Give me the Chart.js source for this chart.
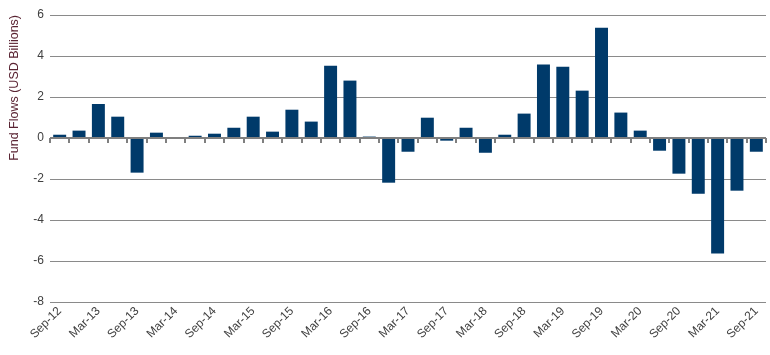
<!DOCTYPE html>
<html>
<head>
<meta charset="utf-8">
<script src="https://cdn.jsdelivr.net/npm/chart.js@4/dist/chart.umd.min.js"></script>
<style>
  html, body { margin: 0; padding: 0; background: #ffffff; }
  #wrap { width: 770px; height: 355px; position: relative; }
</style>
</head>
<body>
<div id="wrap"><canvas id="c"></canvas></div>
<script>
const quarters = [
  "Sep-12","Dec-12","Mar-13","Jun-13","Sep-13","Dec-13","Mar-14","Jun-14",
  "Sep-14","Dec-14","Mar-15","Jun-15","Sep-15","Dec-15","Mar-16","Jun-16",
  "Sep-16","Dec-16","Mar-17","Jun-17","Sep-17","Dec-17","Mar-18","Jun-18",
  "Sep-18","Dec-18","Mar-19","Jun-19","Sep-19","Dec-19","Mar-20","Jun-20",
  "Sep-20","Dec-20","Mar-21","Jun-21","Sep-21"
];
const fundFlows = [
  0.16, 0.36, 1.66, 1.04, -1.69, 0.26, 0.0, 0.11,
  0.21, 0.50, 1.04, 0.31, 1.38, 0.80, 3.53, 2.80,
  0.07, -2.18, -0.67, 0.99, -0.13, 0.50, -0.72, 0.16,
  1.19, 3.58, 3.48, 2.31, 5.38, 1.24, 0.36, -0.62,
  -1.74, -2.72, -5.64, -2.57, -0.67
];
const yTicks = [-8, -6, -4, -2, 0, 2, 4, 6];
const axisTitle = "Fund Flows (USD Billions)";

const zeroLinePlugin = {
  id: 'zeroLine',
  afterDatasetsDraw(chart) {
    const ctx = chart.ctx;
    const xs = chart.scales.x, ys = chart.scales.y;
    const area = chart.chartArea;
    const y0 = ys.getPixelForValue(0);
    ctx.save();
    ctx.strokeStyle = '#7f7f7f';
    ctx.lineWidth = 2;
    ctx.beginPath();
    ctx.moveTo(area.left, y0);
    ctx.lineTo(area.right, y0);
    ctx.stroke();
    const n = quarters.length;
    const bounds = [area.left];
    for (let i = 1; i < n; i++) {
      bounds.push((xs.getPixelForValue(i - 1) + xs.getPixelForValue(i)) / 2);
    }
    bounds.push(area.right);
    ctx.beginPath();
    bounds.forEach(b => {
      const bx = Math.round(b);
      ctx.moveTo(bx, y0);
      ctx.lineTo(bx, y0 + 5);
    });
    ctx.stroke();
    ctx.restore();
  }
};

new Chart(document.getElementById('c'), {
  type: 'bar',
  data: {
    labels: quarters,
    datasets: [{
      data: fundFlows,
      backgroundColor: '#003a6a',
      borderWidth: 0,
      barPercentage: 0.67,
      categoryPercentage: 1.0
    }]
  },
  options: {
    responsive: true,
    maintainAspectRatio: false,
    animation: false,
    layout: { padding: { top: 15, right: 4, left: 0, bottom: 0 } },
    plugins: { legend: { display: false }, tooltip: { enabled: false } },
    scales: {
      x: {
        grid: { display: false, drawTicks: false },
        border: { display: false },
        ticks: {
          autoSkip: false,
          maxRotation: 45,
          minRotation: 45,
          padding: 2,
          color: '#404040',
          font: { family: 'Liberation Sans', size: 12 },
          callback: function(v, i) { return i % 2 === 0 ? quarters[i] : ''; }
        },
        afterFit(s) { s.height = 53; }
      },
      y: {
        min: yTicks[0],
        max: yTicks[yTicks.length - 1],
        afterBuildTicks(s) { s.ticks = yTicks.map(v => ({ value: v })); },
        grid: {
          drawTicks: false,
          color: ctx => ctx.tick && ctx.tick.value === 0 ? 'rgba(0,0,0,0)' : '#8a8a8a',
          lineWidth: 1
        },
        border: { display: false },
        ticks: {
          padding: 6,
          color: '#404040',
          font: { family: 'Liberation Sans', size: 12 }
        },
        title: {
          display: true,
          text: axisTitle,
          align: 'end',
          color: '#5a2433',
          font: { family: 'Liberation Sans', size: 12.5 },
          padding: { top: 7, bottom: 0 }
        },
        afterFit(s) { s.width = 50; }
      }
    }
  },
  plugins: [zeroLinePlugin]
});
</script>
</body>
</html>
